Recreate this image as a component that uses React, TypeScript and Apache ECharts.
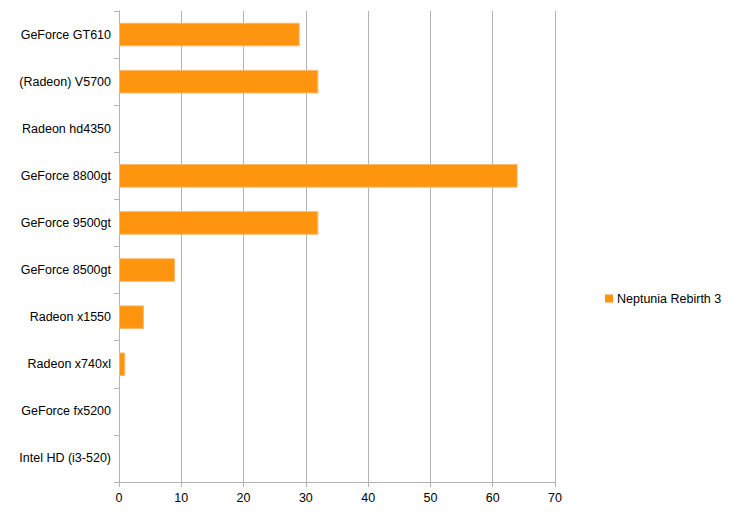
import React, { useEffect, useRef } from "react";
import * as echarts from "echarts";

const categories = [
  "GeForce GT610",
  "(Radeon) V5700",
  "Radeon hd4350",
  "GeForce 8800gt",
  "GeForce 9500gt",
  "GeForce 8500gt",
  "Radeon x1550",
  "Radeon x740xl",
  "GeForce fx5200",
  "Intel HD (i3-520)",
];
const values = [29, 32, 0, 64, 32, 9, 4, 1, 0, 0];
const seriesName = "Neptunia Rebirth 3";

export default function App() {
  const ref = useRef<HTMLDivElement>(null);
  useEffect(() => {
    const chart = echarts.init(ref.current!, null, { renderer: "svg" });
    chart.setOption({
      animation: false,
      textStyle: { fontFamily: "Liberation Sans" },
      grid: { left: 119, right: 186, top: 11, bottom: 32 },
      legend: {
        data: [seriesName],
        left: 600,
        top: 287,
        icon: "rect",
        itemWidth: 8,
        itemHeight: 8,
        itemGap: 6,
        itemStyle: { borderWidth: 0 },
        textStyle: { fontSize: 12.5, color: "#000", fontFamily: "Liberation Sans", padding: [0, 0, 0, -1] },
      },
      xAxis: {
        type: "value",
        min: 0,
        max: 70,
        interval: 10,
        axisLine: { show: true, lineStyle: { color: "#b3b3b3" } },
        axisTick: { show: true, length: 5, lineStyle: { color: "#b3b3b3" } },
        axisLabel: { color: "#000", fontSize: 12.5, margin: 9 },
        splitLine: { show: true, lineStyle: { color: "#b3b3b3" } },
      },
      yAxis: {
        type: "category",
        data: categories,
        inverse: true,
        axisLine: { show: true, lineStyle: { color: "#b3b3b3" } },
        axisTick: { show: true, length: 5, lineStyle: { color: "#b3b3b3" } },
        axisLabel: { color: "#000", fontSize: 12.5, margin: 8 },
        splitLine: { show: false },
      },
      series: [
        {
          name: seriesName,
          type: "bar",
          data: values.map((v) => ({
            value: v,
            itemStyle: v === 0 ? { borderWidth: 0, opacity: 0 } : {},
          })),
          barWidth: "50%",
          itemStyle: { color: "#ff950e", borderColor: "#ffb766", borderWidth: 1 },
        },
      ],
    });
    return () => chart.dispose();
  }, []);
  return <div ref={ref} style={{ width: 741, height: 514, position: "absolute", left: 0, top: 0 }} />;
}
